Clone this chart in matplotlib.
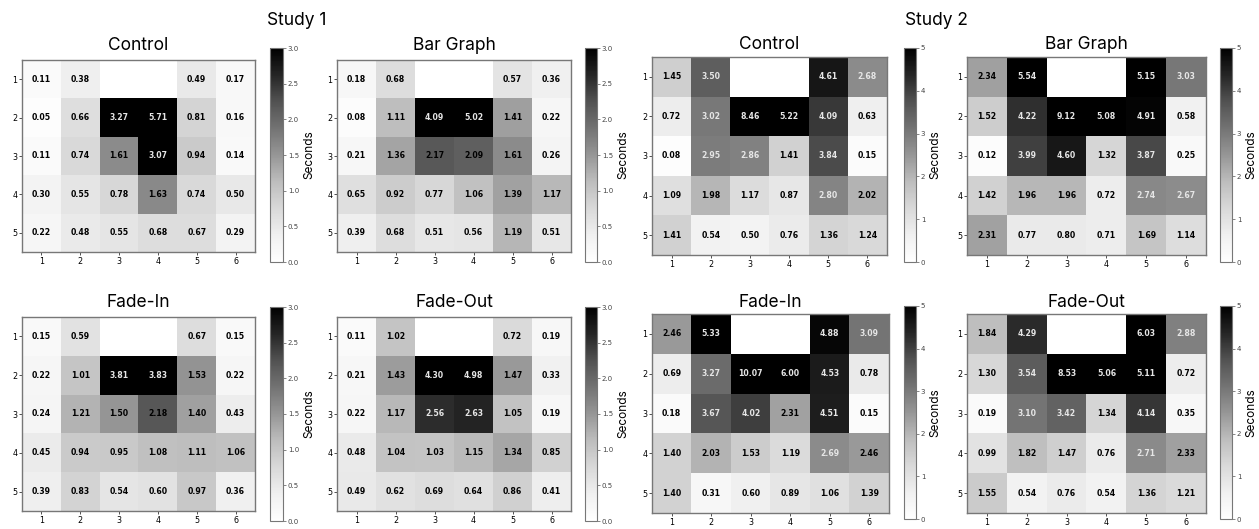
"""
Dwell-time heatmaps, Study 1 vs Study 2, four conditions each.
"""

import numpy as np
import matplotlib
matplotlib.use('Agg')
import matplotlib.pyplot as plt

nan = np.nan

W, H = 1259, 529

ROWS = ['1', '2', '3', '4', '5']
COLS = ['1', '2', '3', '4', '5', '6']
CONDITIONS = ['Control', 'Bar Graph', 'Fade-In', 'Fade-Out']

# ── Study 1 ──────────────────────────────────────────────────────────────
s1_control = [[0.11, 0.38, nan, nan, 0.49, 0.17],
              [0.05, 0.66, 3.27, 5.71, 0.81, 0.16],
              [0.11, 0.74, 1.61, 3.07, 0.94, 0.14],
              [0.30, 0.55, 0.78, 1.63, 0.74, 0.50],
              [0.22, 0.48, 0.55, 0.68, 0.67, 0.29]]
s1_bar = [[0.18, 0.68, nan, nan, 0.57, 0.36],
          [0.08, 1.11, 4.09, 5.02, 1.41, 0.22],
          [0.21, 1.36, 2.17, 2.09, 1.61, 0.26],
          [0.65, 0.92, 0.77, 1.06, 1.39, 1.17],
          [0.39, 0.68, 0.51, 0.56, 1.19, 0.51]]
s1_fadein = [[0.15, 0.59, nan, nan, 0.67, 0.15],
             [0.22, 1.01, 3.81, 3.83, 1.53, 0.22],
             [0.24, 1.21, 1.50, 2.18, 1.40, 0.43],
             [0.45, 0.94, 0.95, 1.08, 1.11, 1.06],
             [0.39, 0.83, 0.54, 0.60, 0.97, 0.36]]
s1_fadeout = [[0.11, 1.02, nan, nan, 0.72, 0.19],
              [0.21, 1.43, 4.30, 4.98, 1.47, 0.33],
              [0.22, 1.17, 2.56, 2.63, 1.05, 0.19],
              [0.48, 1.04, 1.03, 1.15, 1.34, 0.85],
              [0.49, 0.62, 0.69, 0.64, 0.86, 0.41]]

# ── Study 2 ──────────────────────────────────────────────────────────────
s2_control = [[1.45, 3.50, nan, nan, 4.61, 2.68],
              [0.72, 3.02, 8.46, 5.22, 4.09, 0.63],
              [0.08, 2.95, 2.86, 1.41, 3.84, 0.15],
              [1.09, 1.98, 1.17, 0.87, 2.80, 2.02],
              [1.41, 0.54, 0.50, 0.76, 1.36, 1.24]]
s2_bar = [[2.34, 5.54, nan, nan, 5.15, 3.03],
          [1.52, 4.22, 9.12, 5.08, 4.91, 0.58],
          [0.12, 3.99, 4.60, 1.32, 3.87, 0.25],
          [1.42, 1.96, 1.96, 0.72, 2.74, 2.67],
          [2.31, 0.77, 0.80, 0.71, 1.69, 1.14]]
s2_fadein = [[2.46, 5.33, nan, nan, 4.88, 3.09],
             [0.69, 3.27, 10.07, 6.00, 4.53, 0.78],
             [0.18, 3.67, 4.02, 2.31, 4.51, 0.15],
             [1.40, 2.03, 1.53, 1.19, 2.69, 2.46],
             [1.40, 0.31, 0.60, 0.89, 1.06, 1.39]]
s2_fadeout = [[1.84, 4.29, nan, nan, 6.03, 2.88],
              [1.30, 3.54, 8.53, 5.06, 5.11, 0.72],
              [0.19, 3.10, 3.42, 1.34, 4.14, 0.35],
              [0.99, 1.82, 1.47, 0.76, 2.71, 2.33],
              [1.55, 0.54, 0.76, 0.54, 1.36, 1.21]]

S1_TICKS = [0.0, 0.5, 1.0, 1.5, 2.0, 2.5, 3.0]
S2_TICKS = [0, 1, 2, 3, 4, 5]

TITLE_FONT = ['Inter', 'DejaVu Sans']
EDGE = '#777777'


def px(l, t, r, b):
    return [l / W, 1 - b / H, (r - l) / W, (b - t) / H]


def draw(fig, data, title, ax_box, cb_box, vmax, ticks, fmt, pad):
    data = np.array(data, dtype=float)
    ax = fig.add_axes(px(*ax_box))
    cax = fig.add_axes(px(*cb_box))
    im = ax.imshow(data, cmap='Greys', vmin=0, vmax=vmax,
                   aspect='auto', interpolation='nearest')
    for i in range(data.shape[0]):
        for j in range(data.shape[1]):
            v = data[i, j]
            if np.isnan(v):
                continue
            ax.text(j, i, f'{v:.2f}', ha='center', va='center',
                    fontsize=5.6, fontweight='bold',
                    color='#e6e6e6' if v > 2.5 else 'black')
    ax.set_xticks(range(len(COLS)))
    ax.set_xticklabels(COLS)
    ax.set_yticks(range(len(ROWS)))
    ax.set_yticklabels(ROWS)
    ax.tick_params(labelsize=5.8, length=2, width=0.6, pad=1.5,
                   color='#333333')
    for s in ax.spines.values():
        s.set_color(EDGE)
        s.set_linewidth(1.0)
    ax.set_title(title, fontsize=12.5, family=TITLE_FONT, pad=pad)

    cb = fig.colorbar(im, cax=cax)
    cb.set_ticks(ticks)
    cb.ax.yaxis.set_major_formatter(matplotlib.ticker.FormatStrFormatter(fmt))
    cb.ax.tick_params(labelsize=5, length=2, width=0.5, pad=1.5,
                      color='#555555', labelcolor='#444444')
    cb.outline.set_edgecolor(EDGE)
    cb.outline.set_linewidth(0.8)
    cb.set_label('Seconds', fontsize=8.5, family=TITLE_FONT, labelpad=3)
    return ax


fig = plt.figure(figsize=(W / 100, H / 100), dpi=100)

# Study 1 (vmax 3)
draw(fig, s1_control, CONDITIONS[0], (22, 60, 255, 252), (270, 48, 283, 262),
     3.0, S1_TICKS, '%.1f', 7.5)
draw(fig, s1_bar, CONDITIONS[1], (337, 60, 571, 252), (585, 48, 597, 262),
     3.0, S1_TICKS, '%.1f', 7.5)
draw(fig, s1_fadein, CONDITIONS[2], (22, 317, 255, 511), (270, 307, 283, 521),
     3.0, S1_TICKS, '%.1f', 7.0)
draw(fig, s1_fadeout, CONDITIONS[3], (337, 317, 571, 511), (585, 307, 597, 521),
     3.0, S1_TICKS, '%.1f', 7.0)

# Study 2 (vmax 5)
draw(fig, s2_control, CONDITIONS[0], (652, 57, 887, 255), (904, 48, 916, 262),
     5, S2_TICKS, '%d', 6.0)
draw(fig, s2_bar, CONDITIONS[1], (967, 57, 1206, 255), (1220, 48, 1232, 262),
     5, S2_TICKS, '%d', 6.0)
draw(fig, s2_fadein, CONDITIONS[2], (652, 314, 889, 513), (904, 306, 916, 519),
     5, S2_TICKS, '%d', 5.0)
draw(fig, s2_fadeout, CONDITIONS[3], (967, 314, 1206, 513), (1220, 306, 1232, 519),
     5, S2_TICKS, '%d', 5.0)

fig.text(297 / W, 1 - 25 / H, 'Study 1', ha='center', va='baseline',
         fontsize=12.5, family=TITLE_FONT)
fig.text(936 / W, 1 - 25 / H, 'Study 2', ha='center', va='baseline',
         fontsize=12.5, family=TITLE_FONT)

fig.savefig('out.png', dpi=100)
plt.close(fig)
